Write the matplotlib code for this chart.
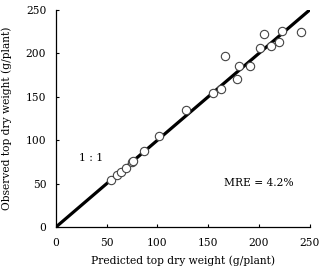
import matplotlib
matplotlib.use("Agg")
import matplotlib.pyplot as plt

predicted = [54, 60, 64, 69, 75, 76, 87, 102, 128, 155, 163, 167, 178, 180, 191, 201, 205, 212, 220, 223, 242]
observed  = [54, 60, 63, 68, 75, 76, 87, 105, 135, 154, 159, 197, 171, 185, 185, 206, 222, 209, 213, 226, 225]
line_x = [0, 250]
line_y = [0, 250]
ticks = [0, 50, 100, 150, 200, 250]

plt.rcParams['font.family'] = ['DejaVu Serif']
fs = 7.7
fig = plt.figure(figsize=(3.19, 2.70), dpi=100)
ax = fig.add_axes([56/319, 43/270, 253.6/319, 217/270])
ax.plot(line_x, line_y, color='black', lw=2.3, zorder=2)
ax.plot(predicted, observed, 'o', mfc='white', mec='#444444', mew=0.8, ms=6, zorder=3)
ax.set_xlim(0, 250)
ax.set_ylim(0, 250)
ax.set_xticks(ticks)
ax.set_yticks(ticks)
ax.tick_params(direction='in', length=2.5, width=0.8, labelsize=fs)
ax.tick_params(axis='x', pad=8)
ax.tick_params(axis='y', pad=7)
for s in ['top', 'right']:
    ax.spines[s].set_visible(False)
for s in ['left', 'bottom']:
    ax.spines[s].set_linewidth(0.9)
ax.set_xlabel('Predicted top dry weight (g/plant)', fontsize=fs, labelpad=5)
ax.set_ylabel('Observed top dry weight (g/plant)', fontsize=fs, labelpad=10)
ax.text(35, 80, '1 : 1', fontsize=fs, va='center', ha='center')
ax.text(166, 51, 'MRE = 4.2%', fontsize=fs, va='center', ha='left')
fig.savefig('out.png', dpi=100)
